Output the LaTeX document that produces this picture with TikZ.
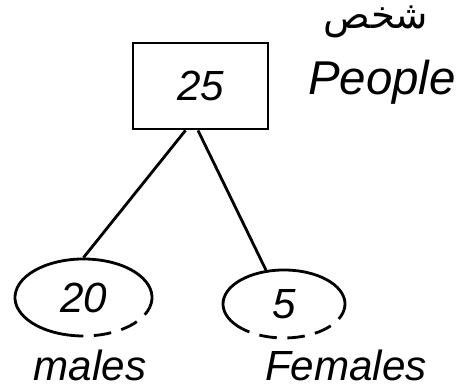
\documentclass[tikz,border=0pt]{standalone}
\usepackage{fontspec}
\setmainfont{Liberation Sans}
\newfontfamily\arabicfont[Script=Arabic]{DejaVu Sans}
\TeXXeTstate=1
\usepackage{tikz}
\usetikzlibrary{shapes.geometric}

\begin{document}
\begin{tikzpicture}[line width=1.6pt,
    hand/.style={font=\fontsize{24}{28}\selectfont\itshape},
    grp/.style={ellipse, minimum width=#1, hand},
    gap/.style={dash pattern=on 10pt off 6pt}]

    \useasboundingbox (0,0) rectangle (9.34,7.8);

    \node[draw, minimum width=2.7cm, minimum height=1.72cm, hand] at (4.01,6.08) (P) {25};
    \node[hand, font=\fontsize{27}{30}\selectfont\itshape] at (7.64,6.15) (Plab) {People};
    \node at (7.52,7.36) (Par) {\arabicfont\fontsize{22}{26}\selectfont\beginR شخص\endR};

    \node[grp=2.74cm, minimum height=1.54cm] at (1.67,1.85) (M) {20};
    \node[grp=2.44cm, minimum height=1.36cm] at (5.68,1.72) (F) {5};
    \node[hand] at (1.8,0.5) (Mlab) {males};
    \node[hand] at (6.92,0.5) (Flab) {Females};

    % males: solid top, dashed lower right
    \draw[shift={(M.center)}] (-15:1.37 and 0.77) arc[start angle=-15, end angle=255, x radius=1.37, y radius=0.77];
    \draw[gap, shift={(M.center)}] (255:1.37 and 0.77) arc[start angle=255, end angle=345, x radius=1.37, y radius=0.77];
    % females
    \draw[shift={(F.center)}] (-10:1.22 and 0.68) arc[start angle=-10, end angle=215, x radius=1.22, y radius=0.68];
    \draw[gap, shift={(F.center)}] (215:1.22 and 0.68) arc[start angle=215, end angle=350, x radius=1.22, y radius=0.68];

    \draw ([xshift=-0.3cm]P.south) -- (M.north);
    \draw ([xshift=-0.05cm]P.south) -- (F.118);
        \end{tikzpicture}
\end{document}
